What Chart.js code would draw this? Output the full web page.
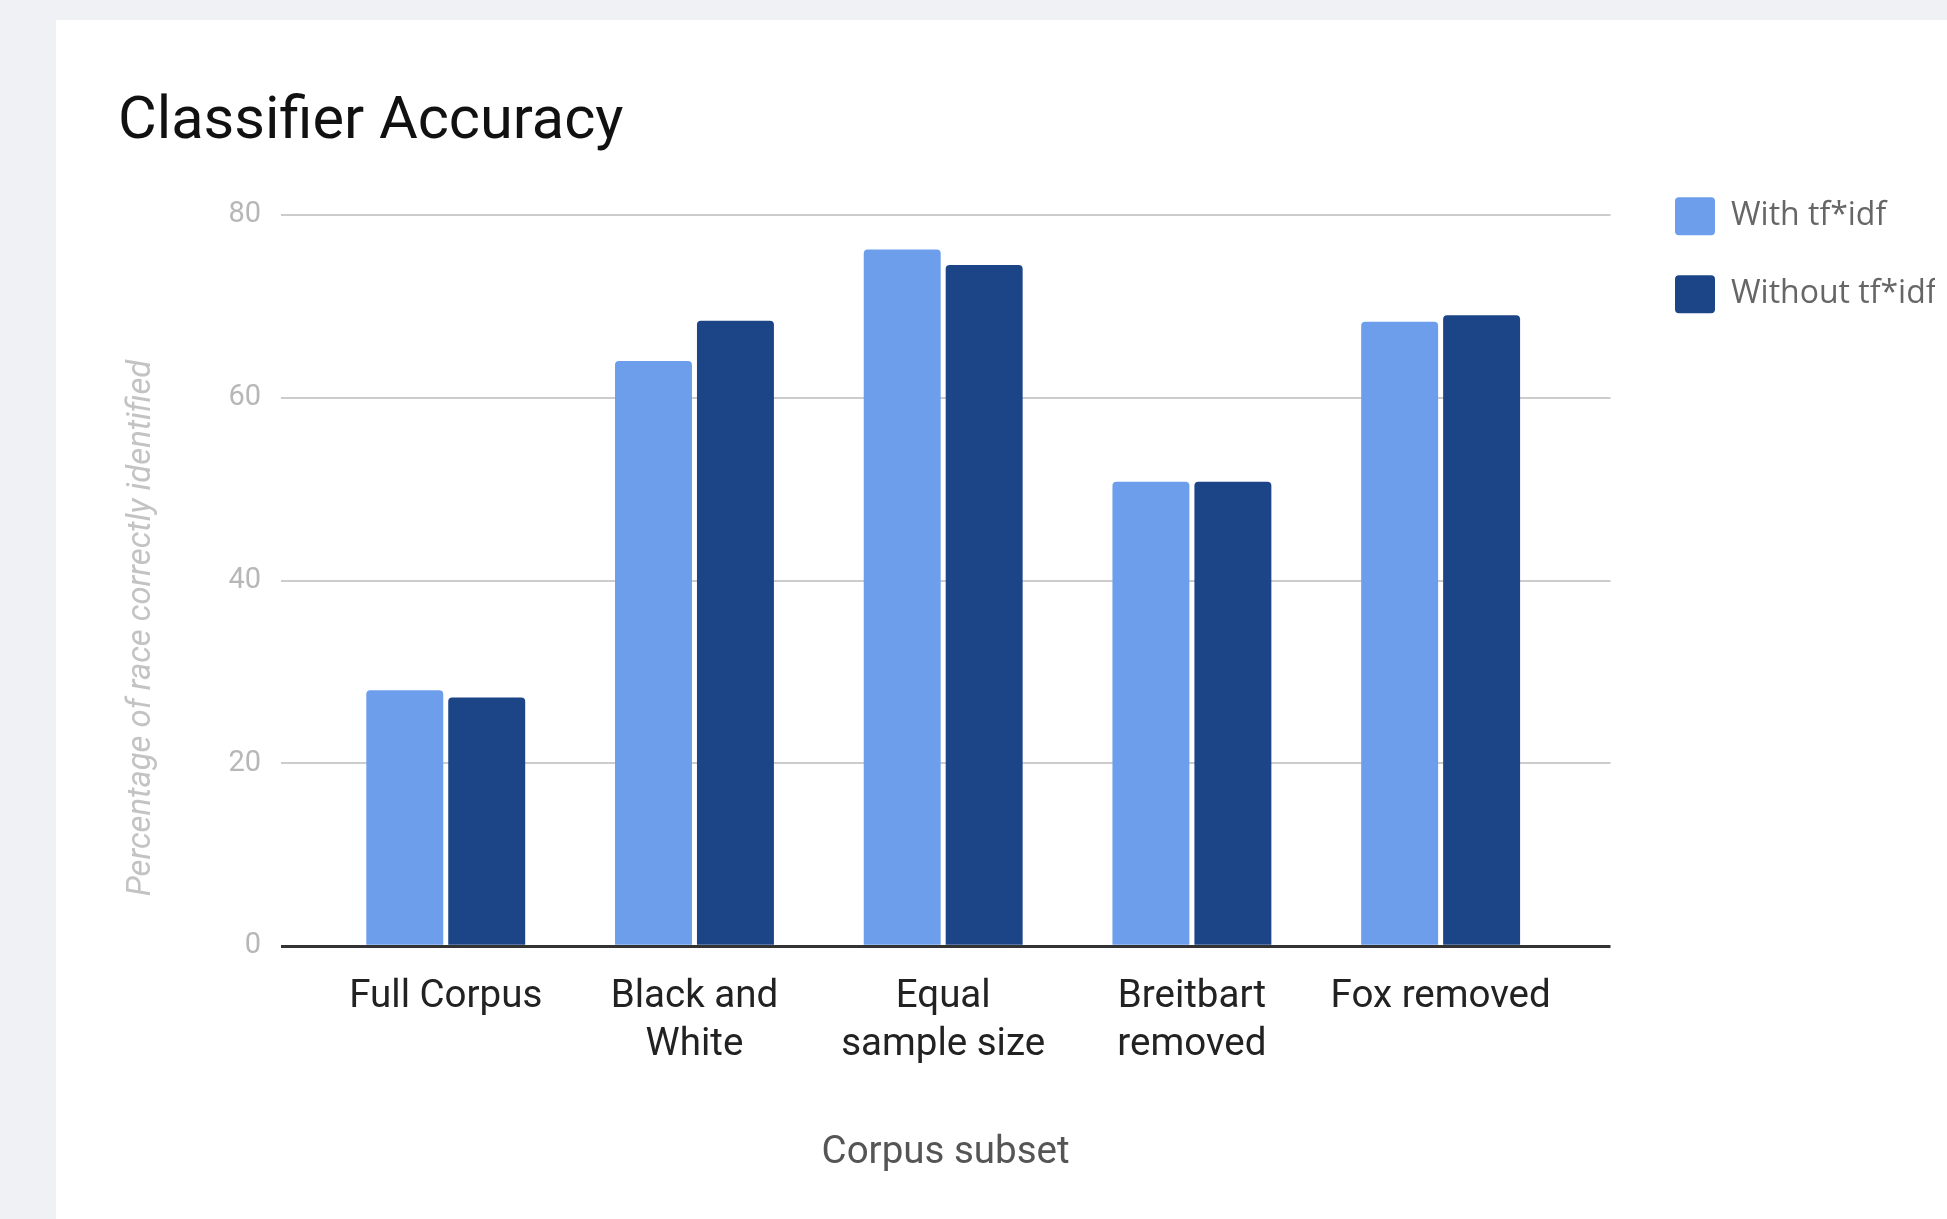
<!DOCTYPE html>
<html>
<head>
<meta charset="utf-8">
<title>Classifier Accuracy</title>
<script src="https://cdn.jsdelivr.net/npm/chart.js@4.4.1/dist/chart.umd.min.js"></script>
<style>
  html, body { margin: 0; padding: 0; overflow: hidden; background: #eff1f5; }
  #card { position: absolute; left: 56px; top: 20px; width: 2000px; height: 1199px; background: #ffffff; }
  #chart { display: block; }
</style>
</head>
<body>
<div id="card"><canvas id="chart" width="2000" height="1199"></canvas></div>
<script>
// chart data
var subsets = ['Full Corpus', 'Black and White', 'Equal sample size', 'Breitbart removed', 'Fox removed'];
var tickLabels = [['Full Corpus'], ['Black and', 'White'], ['Equal', 'sample size'], ['Breitbart', 'removed'], ['Fox removed']];
var withTfidf = [28.0, 64.0, 76.2, 50.8, 68.3];
var withoutTfidf = [27.2, 68.4, 74.5, 50.8, 69.0];
var seriesNames = ['With tf*idf', 'Without tf*idf'];
var yTicks = [0, 20, 40, 60, 80];
var yTitle = 'Percentage of race correctly identified';

Chart.defaults.font.family = 'Roboto';

//turn a value list into points on the numeric x axis
function points(values){
    return values.map(function(v, i){ return {x: i, y: v}; });
}

//y axis title sits a little below the middle of the axis, so draw it ourselves
var yTitlePlugin = {
    id: 'yTitle',
    afterDraw: function(chart){
        var c = chart.ctx;
        var area = chart.chartArea;
        c.save();
        c.translate(area.left - 139, (area.top + area.bottom) / 2 + 47.5);
        c.rotate(-Math.PI / 2);
        c.font = 'italic 32.8px Roboto';
        c.fillStyle = '#c3c3c3';
        c.textAlign = 'center';
        c.textBaseline = 'middle';
        c.fillText(yTitle, 0, 0);
        c.restore();
    }
};

var ctx = document.getElementById('chart');

new Chart(ctx, {
    type: 'bar',
    data: {
        datasets: [{
            label: seriesNames[0],
            data: points(withTfidf),
            backgroundColor: '#6d9eeb',
            borderRadius: 4,
            categoryPercentage: 0.659,
            barPercentage: 0.939
        }, {
            label: seriesNames[1],
            data: points(withoutTfidf),
            backgroundColor: '#1c4587',
            borderRadius: 4,
            categoryPercentage: 0.659,
            barPercentage: 0.939
        }]
    },
    plugins: [yTitlePlugin],
    options: {
        responsive: false,
        animation: false,
        devicePixelRatio: 1,
        layout: {
            padding: {left: 62, right: 121, top: 0, bottom: 0}
        },
        plugins: {
            tooltip: {enabled: false},
            title: {
                display: true,
                text: 'Classifier Accuracy',
                align: 'start',
                color: '#111111',
                font: {size: 59.5, weight: 'normal'},
                padding: {top: 67.1, bottom: 56.3}
            },
            legend: {
                position: 'right',
                align: 'start',
                maxWidth: 300,
                title: {
                    display: true,
                    text: '',
                    font: {size: 12},
                    padding: {top: 122.9, bottom: 0}
                },
                labels: {
                    boxWidth: 40,
                    boxHeight: 38,
                    padding: 40,
                    useBorderRadius: true,
                    borderRadius: 4,
                    color: '#666666',
                    font: {family: 'Open Sans', size: 32}
                }
            }
        },
        scales: {
            x: {
                type: 'linear',
                position: 'bottom',
                offset: false,
                min: -0.664,
                max: 4.683,
                afterBuildTicks: function(scale){
                    scale.ticks = subsets.map(function(s, i){ return {value: i}; });
                },
                afterFit: function(scale){ scale.height = 272.8; },
                grid: {display: false},
                border: {display: false},
                ticks: {
                    autoSkip: false,
                    maxRotation: 0,
                    minRotation: 0,
                    padding: 18.7,
                    color: '#222222',
                    font: {size: 38.5, lineHeight: 1.257},
                    callback: function(value){ return tickLabels[value]; }
                },
                title: {
                    display: true,
                    text: 'Corpus subset',
                    color: '#555555',
                    font: {size: 38.5},
                    padding: {top: 0, bottom: 43}
                }
            },
            y: {
                position: 'left',
                min: 0,
                max: 80,
                afterBuildTicks: function(scale){
                    scale.ticks = yTicks.map(function(v){ return {value: v}; });
                },
                afterFit: function(scale){ scale.width = 162.6; },
                border: {display: false},
                grid: {
                    drawTicks: false,
                    color: function(c){ return c.tick && c.tick.value === 0 ? '#333333' : '#cccccc'; },
                    lineWidth: function(c){ return c.tick && c.tick.value === 0 ? 3 : 2; }
                },
                ticks: {
                    padding: 19.6,
                    color: '#b7b7b7',
                    font: {size: 29}
                }
            },
            yR: {
                type: 'linear',
                position: 'right',
                afterFit: function(scale){ scale.width = 24.5; },
                grid: {display: false},
                border: {display: false},
                ticks: {display: false}
            }
        }
    }
});
</script>
</body>
</html>
